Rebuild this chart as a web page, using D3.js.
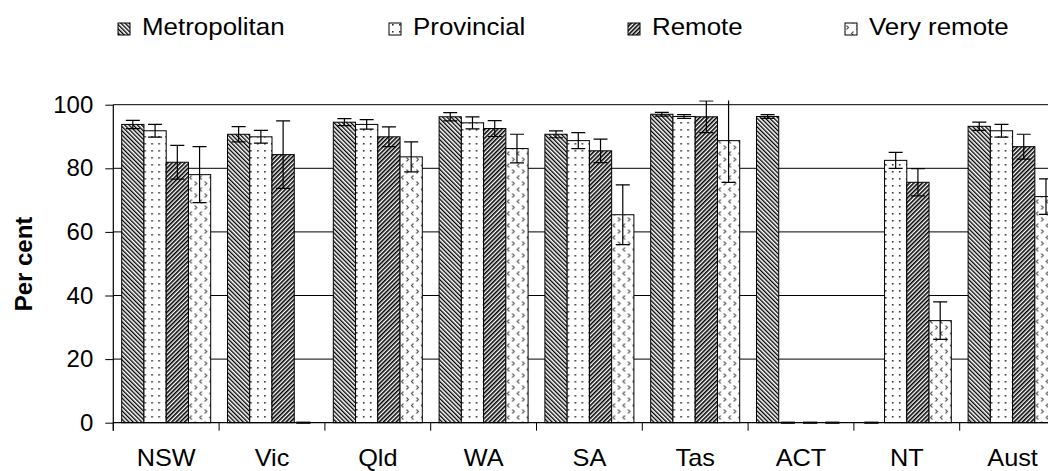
<!DOCTYPE html>
<html><head><meta charset="utf-8">
<script src="https://cdn.jsdelivr.net/npm/d3@7"></script>
<style>body{margin:0;background:#fff;overflow:hidden} text{font-family:"Liberation Sans",Arial,sans-serif;fill:#000}</style>
</head><body><svg id="c" width="1048" height="471"></svg>
<script>
const categories = ["NSW","Vic","Qld","WA","SA","Tas","ACT","NT","Aust"];
const seriesNames = ["Metropolitan","Provincial","Remote","Very remote"];
const metropolitan    = [93.8, 90.7, 94.5, 96.2, 90.7, 97.0, 96.3, 0, 93.2];
const metropolitanErr = [1.3, 2.4, 1.1, 1.3, 1.1, 0.6, 0.6, 0, 1.3];
const provincial      = [91.8, 89.9, 93.8, 94.3, 88.7, 96.3, 0, 82.5, 91.8];
const provincialErr   = [2.0, 2.0, 1.5, 1.9, 2.5, 0.6, 0, 2.5, 2.0];
const remote          = [81.9, 84.3, 89.9, 92.5, 85.5, 96.2, 0, 75.6, 86.8];
const remoteErr       = [5.3, 10.6, 3.1, 2.5, 3.7, 5.0, 0, 4.3, 3.9];
const veryRemote      = [78.0, 0, 83.6, 86.2, 65.4, 88.7, 0, 32.1, 71.1];
const veryRemoteErr   = [8.8, 0, 4.7, 4.5, 9.4, 13.1, 0, 5.9, 5.6];
const yTicks = [0, 20, 40, 60, 80, 100];

const values = [metropolitan, provincial, remote, veryRemote];
const errors = [metropolitanErr, provincialErr, remoteErr, veryRemoteErr];
const patIds = ["pMetro","pProv","pRemote","pVR"];

const svg = d3.select("#c");
const defs = svg.append("defs");

function stripePattern(id, angle, stripeW) {
  const p = defs.append("pattern").attr("id", id).attr("patternUnits","userSpaceOnUse")
    .attr("width", 3).attr("height", 3).attr("patternTransform", `rotate(${angle})`);
  p.append("rect").attr("width",3).attr("height",3).attr("fill","#fff");
  p.append("rect").attr("width",stripeW).attr("height",3).attr("fill","#000");
}
stripePattern("pMetro", -45, 1.35);
stripePattern("pRemote", 45, 1.6);
{
  const p = defs.append("pattern").attr("id","pProv").attr("patternUnits","userSpaceOnUse")
    .attr("width",7).attr("height",7);
  p.append("rect").attr("width",7).attr("height",7).attr("fill","#fff");
  p.append("rect").attr("x",3).attr("y",3).attr("width",1.6).attr("height",1.6).attr("fill","#333");
}
{
  const p = defs.append("pattern").attr("id","pVR").attr("patternUnits","userSpaceOnUse")
    .attr("width",10).attr("height",12);
  p.append("rect").attr("width",10).attr("height",12).attr("fill","#fff");
  p.append("path").attr("d","M1.5,1.5 L3.5,3.5 L1.5,5.5 M8.5,7.5 L6.5,9.5 L8.5,11.5")
    .attr("fill","none").attr("stroke","#555").attr("stroke-width",1.1);
}

const y = d3.scaleLinear().domain([0, 100]).range([422.7, 104.7]);
const x0 = d3.scaleBand().domain(categories).range([113.3, 1065.5]).padding(0);
const x1 = d3.scaleBand().domain(seriesNames).range([8.4, x0.bandwidth() - 8.4]).padding(0);

// gridlines
svg.append("g").selectAll("line").data(yTicks.filter(t => t > 0)).join("line")
  .attr("x1", 113.3).attr("x2", 1048).attr("y1", d => y(d)).attr("y2", d => y(d))
  .attr("stroke", "#000").attr("stroke-width", 1);

// bars
const groups = svg.append("g").selectAll("g").data(categories).join("g")
  .attr("transform", d => `translate(${x0(d)},0)`);
groups.each(function(cat, ci) {
  const g = d3.select(this);
  seriesNames.forEach((s, si) => {
    const v = values[si][ci];
    if (v > 0) {
      g.append("rect").attr("x", x1(s)).attr("y", y(v)).attr("width", x1.bandwidth())
        .attr("height", y(0) - y(v)).attr("fill", `url(#${patIds[si]})`)
        .attr("stroke", "#000").attr("stroke-width", 1);
    } else {
      g.append("line").attr("x1", x1(s) + 2).attr("x2", x1(s) + x1.bandwidth() - 6)
        .attr("y1", y(0)).attr("y2", y(0)).attr("stroke", "#000").attr("stroke-width", 2.2);
    }
  });
});

// error bars (clipped to plot area)
defs.append("clipPath").attr("id","clipPlot").append("rect")
  .attr("x", 100).attr("y", 100.5).attr("width", 960).attr("height", 340);
const eg = svg.append("g").attr("clip-path","url(#clipPlot)");
categories.forEach((cat, ci) => {
  seriesNames.forEach((s, si) => {
    const v = values[si][ci], e = errors[si][ci];
    if (v <= 0 || e <= 0) return;
    const cx = x0(cat) + x1(s) + x1.bandwidth() / 2;
    const yt = y(v + e), yb = y(v - e);
    eg.append("line").attr("x1", cx).attr("x2", cx).attr("y1", yt).attr("y2", yb)
      .attr("stroke","#000").attr("stroke-width",1.2);
    [yt, yb].forEach(yy => eg.append("line").attr("x1", cx - 7).attr("x2", cx + 7)
      .attr("y1", yy).attr("y2", yy).attr("stroke","#000").attr("stroke-width",1.2));
  });
});

// x baseline
svg.append("line").attr("x1",113.3).attr("x2",1048).attr("y1",y(0)).attr("y2",y(0))
  .attr("stroke","#000").attr("stroke-width",1.2);

// y axis
const yAxis = svg.append("g").attr("transform","translate(113.3,0)")
  .call(d3.axisLeft(y).tickValues(yTicks).tickSize(8).tickPadding(12));
yAxis.select(".domain").remove();
yAxis.selectAll("line").attr("stroke","#000");
yAxis.selectAll("text").attr("font-size", 24).attr("font-family","Liberation Sans, Arial, sans-serif").attr("fill","#000");
svg.append("line").attr("x1",113.3).attr("x2",113.3).attr("y1",y(100)).attr("y2",y(0)+8)
  .attr("stroke","#000").attr("stroke-width",1.2);

// x axis labels
const xAxis = svg.append("g").attr("transform",`translate(0,${y(0)})`)
  .call(d3.axisBottom(x0).tickSize(0).tickPadding(27));
xAxis.select(".domain").remove();
xAxis.selectAll("text").attr("font-size", 23).attr("font-family","Liberation Sans, Arial, sans-serif")
  .attr("fill","#000").attr("transform","scale(1.1,1)");
// x boundary ticks
svg.append("g").selectAll("line").data(d3.range(categories.length + 1)).join("line")
  .attr("x1", i => x0.range()[0] + i * x0.step()).attr("x2", i => x0.range()[0] + i * x0.step())
  .attr("y1", y(0)).attr("y2", y(0) + 8).attr("stroke","#000").attr("stroke-width",1);

// y label
svg.append("text").attr("transform","translate(32,264) rotate(-90)")
  .attr("text-anchor","middle").attr("font-size",24).attr("font-weight","bold").text("Per cent");

// legend
const legX = [118, 389, 628, 845];
const leg = svg.append("g").selectAll("g").data(seriesNames).join("g")
  .attr("transform", (d, i) => `translate(${legX[i]},0)`);
leg.append("rect").attr("x",0).attr("y",23).attr("width",12).attr("height",12)
  .attr("fill", (d, i) => `url(#${patIds[i]})`).attr("stroke","#000").attr("stroke-width",1);
leg.append("text").attr("transform","translate(24,35) scale(1.08,1)").attr("font-size",24).text(d => d);
</script></body></html>
